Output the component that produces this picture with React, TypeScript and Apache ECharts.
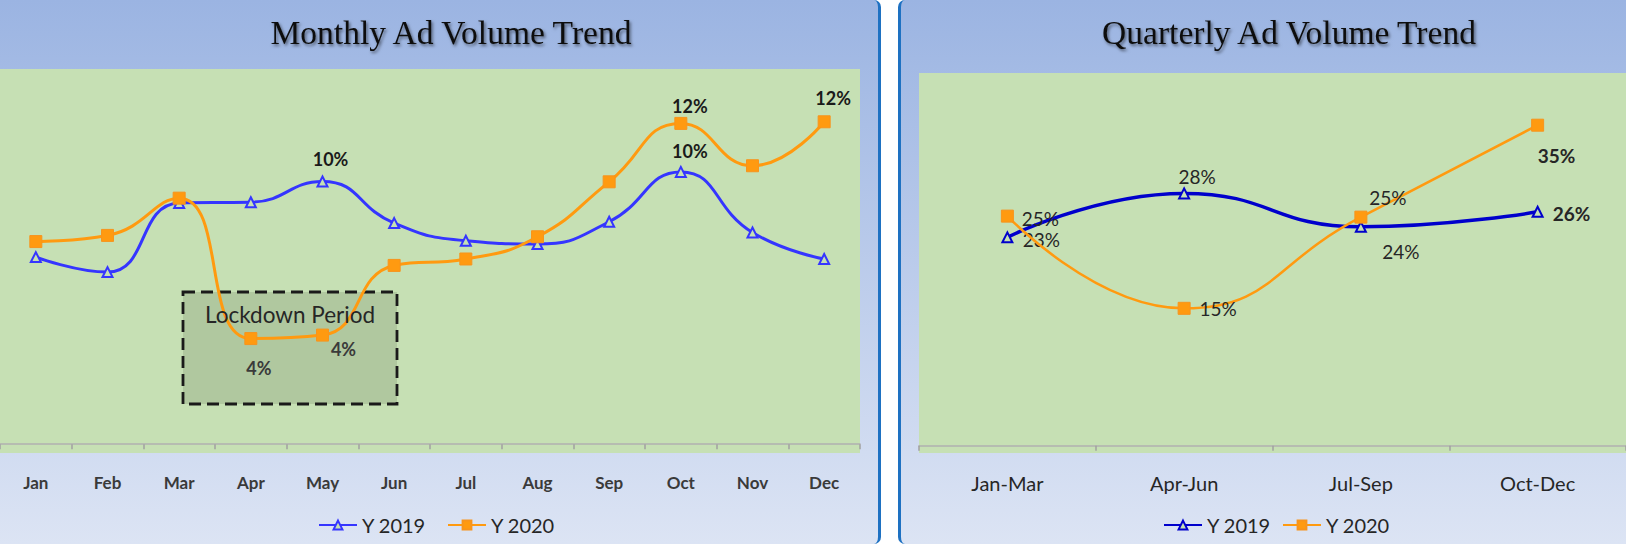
import React, { useEffect, useRef } from 'react';
import * as echarts from 'echarts';

// ---- data ----
const months = ['Jan', 'Feb', 'Mar', 'Apr', 'May', 'Jun', 'Jul', 'Aug', 'Sep', 'Oct', 'Nov', 'Dec'];
const monthly2019 = [6.98, 6.42, 9.0, 9.03, 9.8, 8.25, 7.59, 7.47, 8.3, 10.16, 7.9, 6.91];
const monthly2020 = [7.56, 7.79, 9.18, 3.94, 4.07, 6.67, 6.91, 7.74, 9.79, 11.97, 10.39, 12.03];
const quarters = ['Jan-Mar', 'Apr-Jun', 'Jul-Sep', 'Oct-Dec'];
const quarterly2019 = [22.75, 27.55, 23.9, 25.54];
const quarterly2020 = [25.07, 15.0, 24.96, 35.0];
const legendNames = ['Y 2019', 'Y 2020'];
const titles = ['Monthly Ad Volume Trend', 'Quarterly Ad Volume Trend'];
const noteText = 'Lockdown Period';

const SANS = 'Lato, "Liberation Sans", sans-serif';

type LabelCfg = { offset: number[]; bold?: boolean; color?: string; size?: number };

// label placement (style) per data index
const m19Labels: Record<number, LabelCfg> = {
  4: { offset: [8, -23], bold: true, color: '#1A1A1A' },
  9: { offset: [9, -21], bold: true, color: '#1A1A1A' },
};
const m20Labels: Record<number, LabelCfg> = {
  3: { offset: [8, 29], bold: true, color: '#3A3A3A' },
  4: { offset: [21, 14], bold: true, color: '#3A3A3A' },
  9: { offset: [9, -17], bold: true, color: '#1A1A1A' },
  11: { offset: [9, -24], bold: true, color: '#1A1A1A' },
};
const q19Labels: Record<number, LabelCfg> = {
  0: { offset: [34, 2] },
  1: { offset: [13, -17] },
  2: { offset: [40, 25] },
  3: { offset: [34, 2], bold: true },
};
const q20Labels: Record<number, LabelCfg> = {
  0: { offset: [33, 2] },
  1: { offset: [34, 0] },
  2: { offset: [27, -20] },
  3: { offset: [19, 30], bold: true },
};

function buildData(values: number[], cfg: Record<number, LabelCfg>, size: number) {
  return values.map((v, i) => {
    const c = cfg[i];
    if (!c) return v;
    return {
      value: v,
      label: {
        show: true,
        position: 'inside',
        offset: c.offset,
        formatter: (p: any) => Math.round(p.value) + '%',
        fontFamily: SANS,
        fontSize: c.size || size,
        fontWeight: c.bold ? 'bold' : 'normal',
        color: c.color || '#262626',
      },
    };
  });
}

const legendFormatter = (name: string) => (name.indexOf('2019') >= 0 ? legendNames[0] : legendNames[1]);

const titleStyle = {
  fontFamily: '"Liberation Serif", serif',
  fontSize: 33.5,
  fontWeight: 'normal',
  color: '#111111',
  lineHeight: 38,
  textShadowColor: 'rgba(0,0,0,0.5)',
  textShadowBlur: 3,
  textShadowOffsetX: 1.5,
  textShadowOffsetY: 2,
};

const option: any = {
  animation: false,
  backgroundColor: 'transparent',
  title: [
    { text: titles[0], left: 446, top: 8, textAlign: 'center', textStyle: titleStyle },
    { text: titles[1], left: 1284, top: 8, textAlign: 'center', textStyle: titleStyle },
  ],
  legend: [
    {
      data: ['m2019', 'm2020'],
      formatter: legendFormatter,
      left: 313,
      top: 510,
      itemWidth: 38,
      itemHeight: 11,
      itemGap: 21,
      textStyle: { fontFamily: SANS, fontSize: 20, color: '#262626' },
    },
    {
      data: ['q2019', 'q2020'],
      formatter: legendFormatter,
      left: 1158,
      top: 510,
      itemWidth: 38,
      itemHeight: 11,
      itemGap: 11,
      textStyle: { fontFamily: SANS, fontSize: 20, color: '#262626' },
    },
  ],
  grid: [
    { left: -4, top: 69, width: 864, height: 384, show: true, backgroundColor: '#C6E0B4', borderWidth: 0 },
    { left: 919, top: 73, width: 712, height: 380, show: true, backgroundColor: '#C6E0B4', borderWidth: 0 },
  ],
  xAxis: [
    {
      type: 'category',
      gridIndex: 0,
      data: months,
      axisLine: { show: true, lineStyle: { color: '#B0B0B0', width: 1.5 } },
      axisTick: { show: true, length: 5, lineStyle: { color: '#A0A0A0', width: 1.5 } },
      axisLabel: { fontFamily: SANS, fontSize: 17, fontWeight: 'bold', color: '#3A3A3A', margin: 21 },
    },
    {
      type: 'category',
      gridIndex: 1,
      data: quarters,
      axisLine: { show: true, lineStyle: { color: '#B0B0B0', width: 1.5 } },
      axisTick: { show: true, length: 5, lineStyle: { color: '#A0A0A0', width: 1.5 } },
      axisLabel: { fontFamily: SANS, fontSize: 20, color: '#262626', margin: 20 },
    },
  ],
  yAxis: [
    { type: 'value', gridIndex: 0, min: -0.33, max: 14, show: false, splitLine: { show: false } },
    { type: 'value', gridIndex: 1, min: -0.8, max: 40.7, show: false, splitLine: { show: false } },
  ],
  series: [
    {
      name: 'm2019',
      type: 'line',
      xAxisIndex: 0,
      yAxisIndex: 0,
      smooth: 0.5,
      data: buildData(monthly2019, m19Labels, 18),
      symbol: 'triangle',
      symbolSize: 10,
      lineStyle: { color: '#3535FF', width: 3 },
      itemStyle: { color: '#C6E0B4', borderColor: '#3535FF', borderWidth: 2 },
      z: 3,
    },
    {
      name: 'm2020',
      type: 'line',
      xAxisIndex: 0,
      yAxisIndex: 0,
      smooth: 0.5,
      data: buildData(monthly2020, m20Labels, 18),
      symbol: 'rect',
      symbolSize: 12,
      lineStyle: { color: '#FF9A10', width: 3 },
      itemStyle: { color: '#FF9A10', borderColor: '#F7941D', borderWidth: 1 },
      z: 4,
    },
    {
      name: 'q2019',
      type: 'line',
      xAxisIndex: 1,
      yAxisIndex: 1,
      smooth: 0.5,
      data: buildData(quarterly2019, q19Labels, 19),
      symbol: 'triangle',
      symbolSize: 10,
      lineStyle: { color: '#0000CC', width: 3.5 },
      itemStyle: { color: '#C6E0B4', borderColor: '#0000CC', borderWidth: 2 },
      z: 3,
    },
    {
      name: 'q2020',
      type: 'line',
      xAxisIndex: 1,
      yAxisIndex: 1,
      smooth: 0.5,
      data: buildData(quarterly2020, q20Labels, 19),
      symbol: 'rect',
      symbolSize: 12,
      lineStyle: { color: '#FF9A10', width: 2.5 },
      itemStyle: { color: '#FF9A10', borderColor: '#F7941D', borderWidth: 1 },
      z: 4,
    },
  ],
  graphic: [
    {
      type: 'rect',
      z: 1,
      shape: { x: 183, y: 292, width: 214, height: 112 },
      style: { fill: 'rgba(30,40,20,0.13)', stroke: '#1A1A1A', lineWidth: 2.8, lineDash: [12, 6] },
    },
    {
      type: 'text',
      z: 5,
      x: 290,
      y: 314,
      style: {
        text: noteText,
        fontFamily: SANS,
        fontSize: 22.5,
        fill: '#262626',
        textAlign: 'center',
        textVerticalAlign: 'middle',
      },
    },
  ],
};

export default function App() {
  const ref = useRef<HTMLDivElement>(null);
  useEffect(() => {
    document.body.style.margin = '0';
    const chart = echarts.init(ref.current!, null, { renderer: 'svg' });
    chart.setOption(option);
    return () => chart.dispose();
  }, []);
  return (
    <div style={{ position: 'fixed', left: 0, top: 0, width: 1626, height: 544, background: '#ffffff', overflow: 'hidden' }}>
      <div
        style={{
          position: 'absolute',
          left: -4,
          top: 0,
          width: 885,
          height: 544,
          boxSizing: 'border-box',
          borderRight: '3px solid #1E71C2',
          borderRadius: '0 7px 7px 0',
          background: 'linear-gradient(to bottom, #9BB4E2, #DCE4F4)',
        }}
      />
      <div
        style={{
          position: 'absolute',
          left: 898,
          top: 0,
          width: 740,
          height: 544,
          boxSizing: 'border-box',
          borderLeft: '3px solid #1E71C2',
          borderRadius: '7px 0 0 7px',
          background: 'linear-gradient(to bottom, #9BB4E2, #DCE4F4)',
        }}
      />
      <div ref={ref} style={{ position: 'absolute', left: 0, top: 0, width: 1626, height: 544 }} />
    </div>
  );
}
